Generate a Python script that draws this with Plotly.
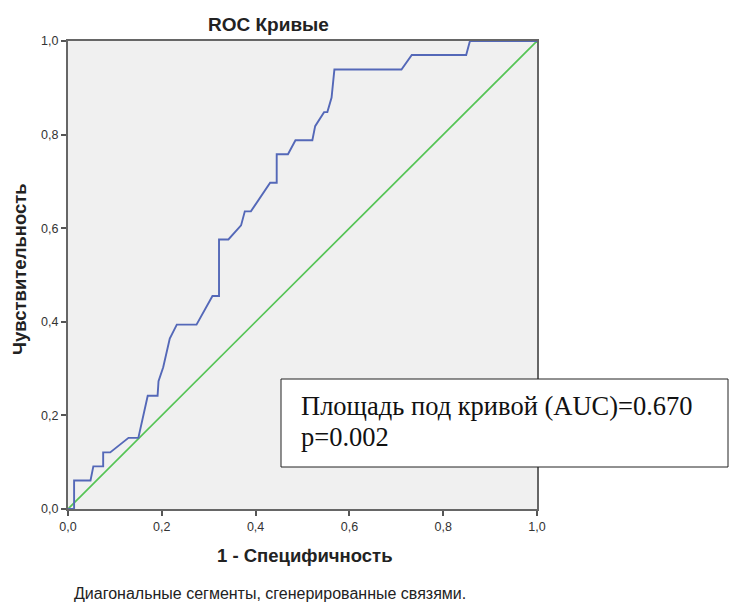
import plotly.graph_objects as go

# ROC curve points (1 - specificity, sensitivity)
fpr = [0.0, 0.013, 0.013, 0.048, 0.054, 0.075, 0.075, 0.090, 0.129, 0.150, 0.170, 0.191,
       0.193, 0.203, 0.217, 0.232, 0.274, 0.308, 0.322, 0.322, 0.342, 0.369, 0.377, 0.390,
       0.431, 0.445, 0.445, 0.469, 0.485, 0.521, 0.527, 0.546, 0.553, 0.562, 0.568, 0.711,
       0.733, 0.849, 0.857, 1.0]
tpr = [0.0, 0.0, 0.061, 0.061, 0.091, 0.091, 0.121, 0.121, 0.152, 0.152, 0.242, 0.242,
       0.273, 0.303, 0.364, 0.394, 0.394, 0.455, 0.455, 0.576, 0.576, 0.606, 0.636, 0.636,
       0.697, 0.697, 0.758, 0.758, 0.788, 0.788, 0.818, 0.848, 0.848, 0.879, 0.939, 0.939,
       0.970, 0.970, 1.0, 1.0]
diag_x = [0.0, 1.0]
diag_y = [0.0, 1.0]
tick_vals = [0.0, 0.2, 0.4, 0.6, 0.8, 1.0]
tick_text = ["0,0", "0,2", "0,4", "0,6", "0,8", "1,0"]

title = "ROC Кривые"
x_title = "1 - Специфичность"
y_title = "Чувствительность"
footnote = "Диагональные сегменты, сгенерированные связями."
auc_text = "Площадь под кривой (AUC)=0.670"
p_text = "p=0.002"

W, H = 733, 603
L, R, T, B = 68, 537, 41, 509
pw, ph = R - L, B - T

def px_x(p):
    return (p - L) / pw

def px_y(p):
    return (B - p) / ph

fig = go.Figure()
fig.add_trace(go.Scatter(x=diag_x, y=diag_y, mode="lines",
                         line=dict(color="#55c455", width=1.7), hoverinfo="skip"))
fig.add_trace(go.Scatter(x=fpr, y=tpr, mode="lines",
                         line=dict(color="#5468b8", width=1.9), hoverinfo="skip"))

axis_common = dict(range=[0, 1], tickmode="array", tickvals=tick_vals, ticktext=tick_text,
                   ticks="outside", ticklen=5, tickcolor="#555555", tickwidth=1.5,
                   showline=True, linecolor="#666666", linewidth=2, mirror=True,
                   showgrid=False, zeroline=False,
                   tickfont=dict(family="Liberation Sans, Arial", size=12.5, color="#333333"))

fig.update_layout(
    width=W, height=H, autosize=False,
    margin=dict(l=L, r=W - R, t=T, b=H - B),
    paper_bgcolor="white", plot_bgcolor="#f0f0f0",
    showlegend=False,
    xaxis=axis_common,
    yaxis=axis_common,
    shapes=[dict(type="rect", xref="paper", yref="paper",
                 x0=px_x(281), x1=px_x(728), y0=px_y(379), y1=px_y(467),
                 fillcolor="white", line=dict(color="#222222", width=1), layer="above")],
    annotations=[
        dict(text="<b>" + title + "</b>", xref="paper", yref="paper", x=px_x(268.5), y=px_y(24.5),
             xanchor="center", yanchor="middle", showarrow=False,
             font=dict(family="Liberation Sans, Arial", size=19, color="#222222")),
        dict(text="<b>" + x_title + "</b>", xref="paper", yref="paper", x=px_x(304.5), y=px_y(555),
             xanchor="center", yanchor="middle", showarrow=False,
             font=dict(family="Liberation Sans, Arial", size=18.5, color="#222222")),
        dict(text="<b>" + y_title + "</b>", xref="paper", yref="paper", x=px_x(19), y=px_y(269),
             xanchor="center", yanchor="middle", showarrow=False, textangle=-90,
             font=dict(family="Liberation Sans, Arial", size=18.5, color="#222222")),
        dict(text=footnote, xref="paper", yref="paper", x=px_x(72), y=px_y(593),
             xanchor="left", yanchor="middle", showarrow=False,
             font=dict(family="Liberation Sans, Arial", size=16, color="#222222")),
        dict(text=auc_text, xref="paper", yref="paper", x=px_x(299), y=px_y(406),
             xanchor="left", yanchor="middle", showarrow=False,
             font=dict(family="Liberation Serif, Times New Roman", size=26.5, color="#111111")),
        dict(text=p_text, xref="paper", yref="paper", x=px_x(299), y=px_y(437),
             xanchor="left", yanchor="middle", showarrow=False,
             font=dict(family="Liberation Serif, Times New Roman", size=26.5, color="#111111")),
    ],
)

fig.write_html("out.html")
